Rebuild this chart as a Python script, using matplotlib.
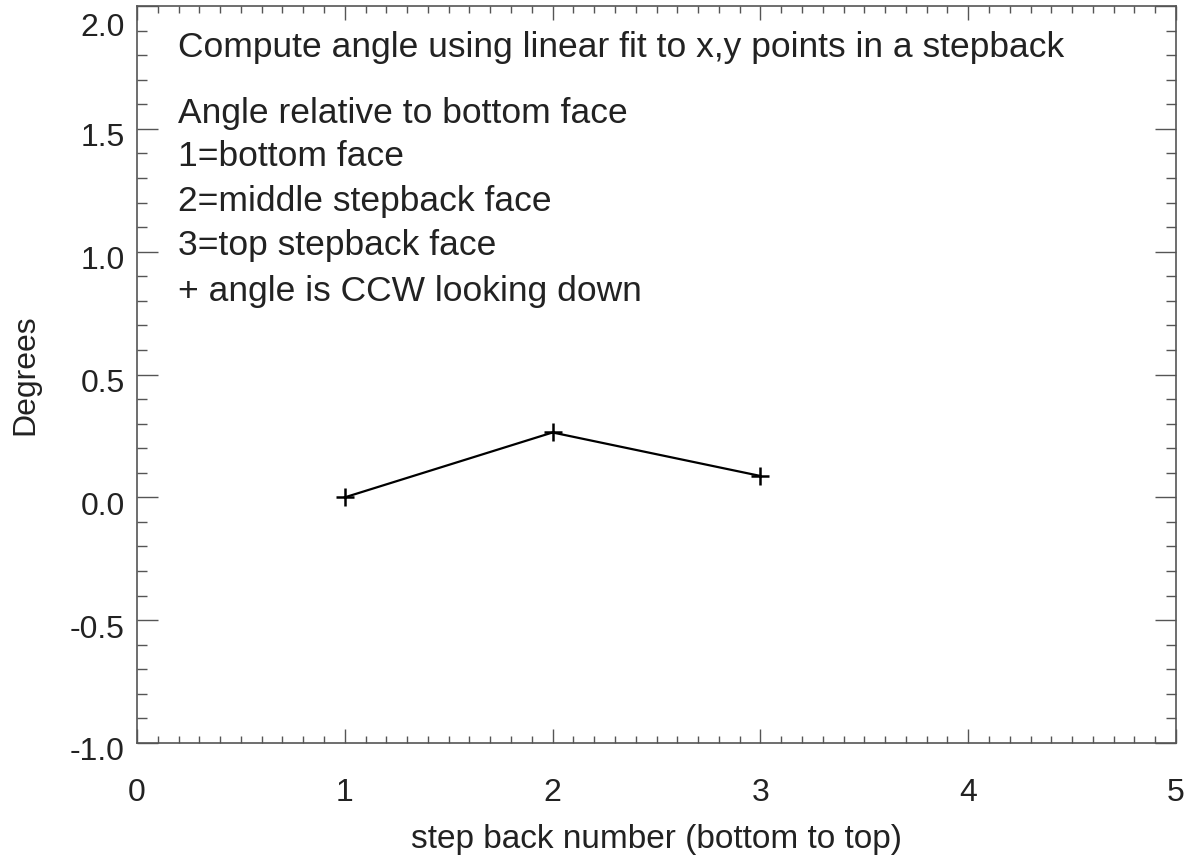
import matplotlib
matplotlib.use("Agg")
import matplotlib.pyplot as plt
import matplotlib.ticker as ticker
from matplotlib.transforms import ScaledTranslation

# step back angles
step = [1, 2, 3]
angle = [0.0, 0.264, 0.087]

notes = [
    "Compute angle using linear fit to x,y points in a stepback",
    "Angle relative to bottom face",
    "1=bottom face",
    "2=middle stepback face",
    "3=top stepback face",
    "+ angle is CCW looking down",
]

plt.rcParams["font.family"] = ["Liberation Sans", "DejaVu Sans"]
txt_col = "#222222"
ax_col = "#555555"

fig = plt.figure(figsize=(11.99, 8.61), dpi=100)
ax = fig.add_axes([137 / 1199, 118 / 861, 1039 / 1199, 737 / 861])

ax.plot(step, angle, color="black", lw=1.6, marker="+", ms=13, mew=1.8)

ax.set_xlim(0, 5)
ax.set_ylim(-1.0, 2.0)
ax.xaxis.set_major_locator(ticker.MultipleLocator(1))
ax.xaxis.set_minor_locator(ticker.MultipleLocator(0.1))
ax.yaxis.set_major_locator(ticker.MultipleLocator(0.5))
ax.yaxis.set_minor_locator(ticker.MultipleLocator(0.1))
ax.xaxis.set_major_formatter(ticker.FormatStrFormatter("%d"))
ax.yaxis.set_major_formatter(ticker.FormatStrFormatter("%.1f"))

ax.tick_params(axis="both", which="both", direction="in", top=True, right=True,
               colors=ax_col, labelcolor=txt_col, labelsize=23)
ax.tick_params(axis="x", which="major", length=10, width=1, pad=25)
ax.tick_params(axis="x", which="minor", length=5, width=1)
ax.tick_params(axis="y", which="major", length=15, width=1, pad=9)
ax.tick_params(axis="y", which="minor", length=7.5, width=1)
for s in ax.spines.values():
    s.set_color(ax_col)
    s.set_linewidth(1.2)

fig.canvas.draw()
for lab in ax.get_yticklabels():
    off = 0.19 if lab.get_text() == "2.0" else 0.06
    lab.set_transform(lab.get_transform() + ScaledTranslation(0, -off, fig.dpi_scale_trans))

ax.set_xlabel("step back number (bottom to top)", fontsize=24, color=txt_col, labelpad=12)
ax.set_ylabel("Degrees", fontsize=23, color=txt_col, labelpad=21)

ys = [47, 113, 157, 202, 246, 292]
for t, y in zip(notes, ys):
    ax.text((178 - 137) / 1039, (743 - y) / 737, t, transform=ax.transAxes,
            fontsize=25.5, color=txt_col, va="center", ha="left")

fig.savefig("out.png", dpi=100)
